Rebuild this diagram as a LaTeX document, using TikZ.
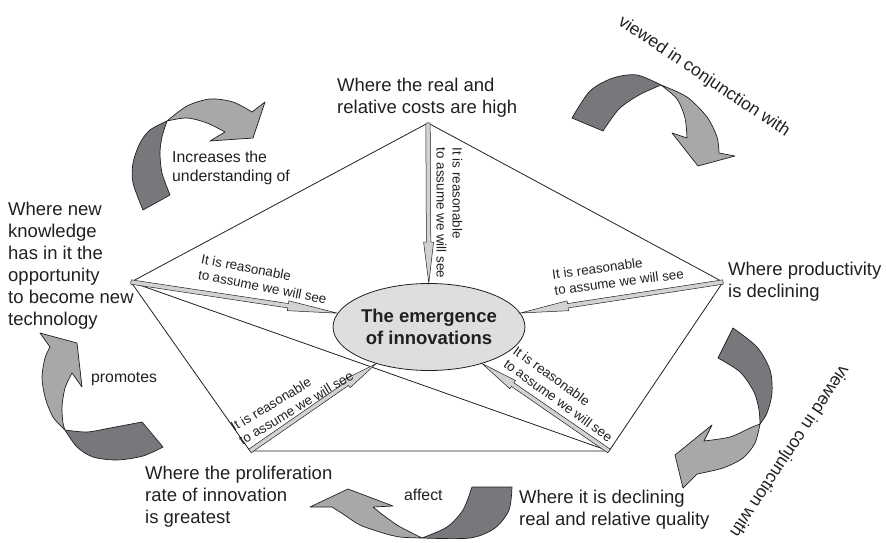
\documentclass[tikz,border=0pt]{standalone}
\usepackage{fontspec}
\setmainfont{Liberation Sans}
\usetikzlibrary{calc,shapes.geometric}
\definecolor{darkrib}{RGB}{120,120,124}
\definecolor{lightrib}{RGB}{168,168,171}
\definecolor{ellfill}{RGB}{222,222,222}
\definecolor{arrfill}{RGB}{210,210,210}
\definecolor{textcol}{RGB}{35,31,32}
\newcommand{\thinarrow}[3]{%
  \coordinate (hb) at ($(#2)!#3!(#1)$);
  \filldraw[thinarr] ($(#1)!2.2pt!90:(#2)$) -- ($(hb)!2.2pt!90:(#2)$) -- ($(hb)!5pt!90:(#2)$) -- (#2)
     -- ($(hb)!5pt!-90:(#2)$) -- ($(hb)!2.2pt!-90:(#2)$) -- ($(#1)!2.2pt!-90:(#2)$) -- cycle;}
\begin{document}
\begin{tikzpicture}[x=1pt,y=-1pt,
  edge/.style={line width=0.8pt, draw=textcol},
  thinarr/.style={draw=textcol, fill=arrfill, line width=0.5pt, line join=miter},
  ribdark/.style={fill=darkrib, draw=textcol, line width=0.7pt, line join=round},
  riblight/.style={fill=lightrib, draw=textcol, line width=0.7pt, line join=round},
  big/.style={font=\fontsize{18.5}{22}\selectfont, align=left, inner sep=0pt, text=textcol},
  small/.style={font=\fontsize{13.4}{16}\selectfont, align=left, inner sep=0pt, text=textcol},
  mid/.style={font=\fontsize{15.8}{19}\selectfont, align=left, inner sep=0pt, text=textcol},
  vw/.style={font=\fontsize{17.5}{20}\selectfont, inner sep=0pt, text=textcol}]
\useasboundingbox (0,0) rectangle (886,543);
% vertices
\coordinate (vT) at (428,123);
\coordinate (vL) at (131,282);
\coordinate (vR) at (723,282);
\coordinate (vBL) at (250,451);
\coordinate (vBR) at (609,451);
% pentagon
\draw[edge] (vT) -- (vL) -- (vBL) -- (vBR) -- (vR) -- cycle;
\draw[edge] (vL) -- (vBR);
% centre
\node[ellipse, draw=textcol, line width=0.8pt, fill=ellfill, minimum width=186pt, minimum height=87pt,
      inner sep=0pt, align=center, text=textcol, font=\bfseries\fontsize{18.5}{22}\selectfont]
      (ell) at (429,327) {The emergence\\of innovations};
% tips on ellipse
\path (vT) -- (ell) coordinate[pos=1] (eT);
\path (vL) -- (ell) coordinate[pos=1] (eL);
\path (vR) -- (ell) coordinate[pos=1] (eR);
\path (vBL) -- (ell) coordinate[pos=1] (eBL);
\path (vBR) -- (ell) coordinate[pos=1] (eBR);
\thinarrow{vT}{eT}{41pt}
\thinarrow{vL}{eL}{50pt}
\thinarrow{vR}{eR}{48pt}
\thinarrow{vBL}{eBL}{35pt}
\thinarrow{vBR}{eBR}{37pt}
% arrow labels
\node[small, rotate=-90] (lT) at (449.5,213) {It is reasonable\\to assume we will see};
\node[small, rotate=-11] (lL) at (264,279) {It is reasonable\\to assume we will see};
\node[small, rotate=7.5] (lR) at (618,274) {It is reasonable\\to assume we will see};
\node[small, rotate=31] (lBL) at (292,401) {It is reasonable\\to assume we will see};
\node[small, rotate=-36] (lBR) at (563,394) {It is reasonable\\to assume we will see};
% vertex texts
\node[big, anchor=north west] (tTop) at (337,77.5) {Where the real and\\relative costs are high};
\node[big, anchor=north west] (tLeft) at (8,201.5) {Where new\\knowledge\\has in it the\\opportunity\\to become new\\technology};
\node[big, anchor=north west] (tRight) at (728,261.5) {Where productivity\\is declining};
\node[big, anchor=north west] (tBL) at (145,465.5) {Where the proliferation\\rate of innovation\\is greatest};
\node[big, anchor=north west] (tBR) at (519,489.5) {Where it is declining\\real and relative quality};
% ribbon arrow A (top-left)
\filldraw[ribdark] (143,210) -- (170,195) -- plot[smooth] coordinates {(170,195) (162,173) (160,153) (162,137) (167,121)}
  -- plot[smooth] coordinates {(167,121) (150,130) (140,143) (133,163) (133,183) (143,210)} -- cycle;
\filldraw[riblight] plot[smooth] coordinates {(167,121) (187,106) (210,99) (233,102) (252,112)}
  -- (265,102) -- (253,138) -- (210,141) -- (225,132)
  -- plot[smooth] coordinates {(225,132) (207,123) (187,118) (167,121)} -- cycle;
% ribbon arrow B (top-right)
\filldraw[ribdark] (572,118) -- (603,131) -- plot[smooth] coordinates {(603,131) (619,109) (639,95) (661,85)}
  -- plot[smooth] coordinates {(661,85) (637,75) (613,78) (590,91) (572,118)} -- cycle;
\filldraw[riblight] plot[smooth] coordinates {(661,85) (687,97) (707,117) (717,137) (719,153)}
  -- (735,156) -- (698,166) -- (672,133) -- (687,138)
  -- plot[smooth] coordinates {(687,138) (685,118) (677,99) (661,85)} -- cycle;
% ribbon arrow C (right)
\filldraw[ribdark] (733,328) -- (718,358) -- plot[smooth] coordinates {(718,358) (740,372) (754,392) (759,410) (760,424)}
  -- plot[smooth] coordinates {(760,424) (767,413) (772,393) (770,370) (757,347) (733,328)} -- cycle;
\filldraw[riblight] plot[smooth] coordinates {(760,424) (755,443) (743,458) (723,468) (697,474)}
  -- (683,488) -- (675,455) -- (712,425) -- (704,441)
  -- plot[smooth] coordinates {(704,441) (730,437) (750,428) (760,424)} -- cycle;
% ribbon arrow D (bottom)
\filldraw[ribdark] (472,487) -- (512,487) -- plot[smooth] coordinates {(512,487) (509,510) (495,528) (470,538) (422,538)}
  -- plot[smooth] coordinates {(422,538) (447,527) (463,510) (472,487)} -- cycle;
\filldraw[riblight] plot[smooth] coordinates {(422,538) (400,537) (383,533) (360,525) (343,514) (332,507)}
  -- (310,507) -- (348,489) -- (393,506) -- (373,507)
  -- plot[smooth] coordinates {(373,507) (383,515) (397,525) (410,532) (422,538)} -- cycle;
% ribbon arrow E (left)
\filldraw[ribdark] (142,422) -- (163,447) -- plot[smooth] coordinates {(163,447) (143,456) (117,460) (93,457) (77,447) (65,430)}
  -- plot[smooth] coordinates {(65,430) (87,432) (110,428) (142,422)} -- cycle;
\filldraw[riblight] plot[smooth] coordinates {(65,430) (53,417) (45,397) (42,377) (45,358) (50,347)}
  -- (40,333) -- (77,343) -- (82,387) -- (72,373)
  -- plot[smooth] coordinates {(72,373) (65,388) (62,407) (63,423) (65,430)} -- cycle;
% ribbon labels
\node[mid, anchor=north west] (rA) at (172,150.5) {Increases the\\understanding of};
\node[mid, anchor=base west] (rE) at (91,382) {promotes};
\node[mid, anchor=base west] (rD) at (404,500) {affect};
\node[vw, rotate=-33.8] (rB) at (704,77) {viewed in conjunction with};
\node[vw, rotate=-123.5] (rC) at (789,451) {viewed in conjunction with};
\end{tikzpicture}
\end{document}
